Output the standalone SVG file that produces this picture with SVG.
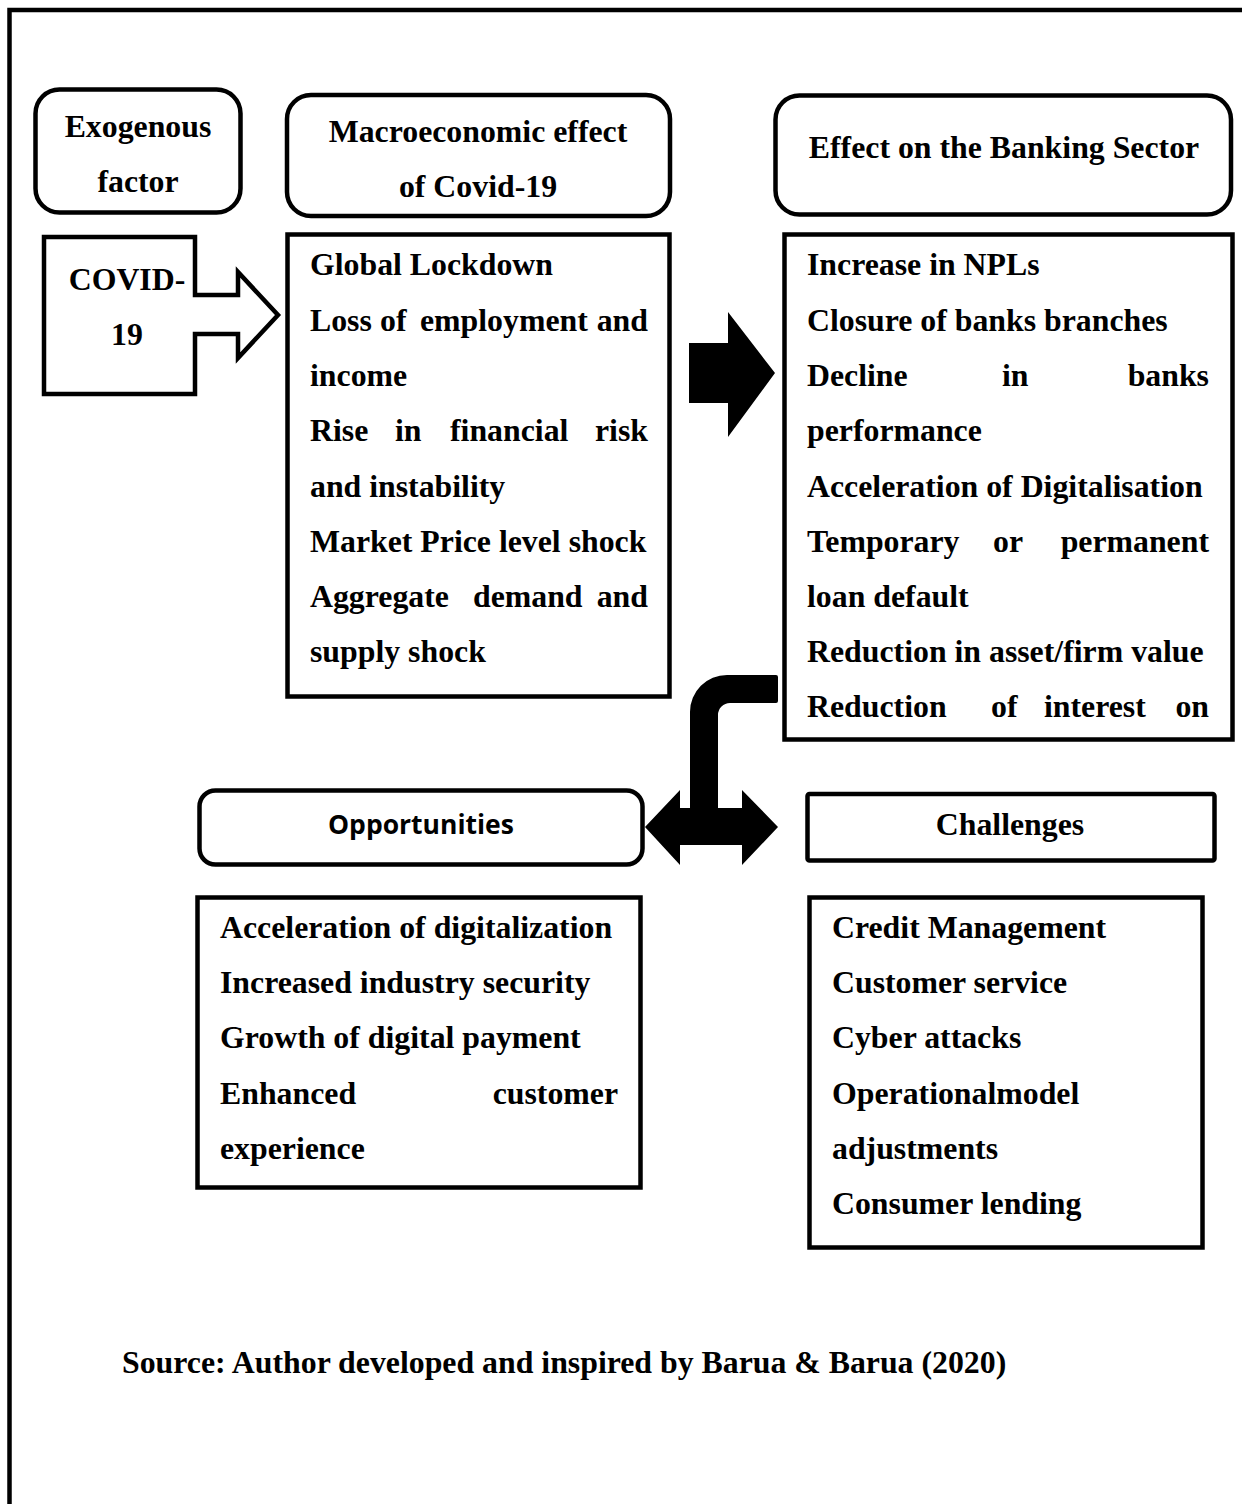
<svg xmlns="http://www.w3.org/2000/svg" width="1242" height="1504" viewBox="0 0 1242 1504">
<style>
.box{fill:#fff;stroke:#000;stroke-width:4.5}
.t{font-family:"Liberation Serif","Times New Roman",serif;font-weight:bold;font-size:31.8px;fill:#000}
.c{text-anchor:middle}
.e{text-anchor:end}
.s{font-family:"Open Sans","Noto Sans",sans-serif;font-weight:bold;font-size:26.5px;fill:#000;text-anchor:middle}
.arrow{fill:#000;stroke:none}
</style>
<rect width="1242" height="1504" fill="#fff"/>
<g id="frame">
<path d="M9.5 1504 L9.5 10 L1242 10" fill="none" stroke="#000" stroke-width="4.5"/>
</g>
<g id="exogenous">
<rect class="box" x="35.5" y="89.5" width="205" height="123" rx="24"/>
<text class="t c" x="138" y="137">Exogenous</text>
<text class="t c" x="138" y="192">factor</text>
</g>
<g id="covid">
<path class="box" d="M44 237 L195 237 L195 295 L238 295 L238 272 L278 315 L238 358 L238 334 L195 334 L195 394 L44 394 Z"/>
<text class="t c" x="127" y="290">COVID-</text>
<text class="t c" x="127" y="345">19</text>
</g>
<g id="macro-header">
<rect class="box" x="287" y="95" width="383" height="121" rx="24"/>
<text class="t c" x="478" y="142">Macroeconomic effect</text>
<text class="t c" x="478" y="197">of Covid-19</text>
</g>
<g id="macro-content">
<rect class="box" x="287.5" y="234.5" width="382" height="462"/>
<text class="t" x="310" y="275">Global Lockdown</text>
<text class="t" x="310" y="331">Loss</text><text class="t" x="380" y="331">of</text><text class="t" x="420" y="331">employment</text><text class="t e" x="648" y="331">and</text>
<text class="t" x="310" y="386">income</text>
<text class="t" x="310" y="441">Rise</text><text class="t" x="395" y="441">in</text><text class="t" x="450" y="441">financial</text><text class="t e" x="648" y="441">risk</text>
<text class="t" x="310" y="497">and instability</text>
<text class="t" x="310" y="552">Market Price level shock</text>
<text class="t" x="310" y="607">Aggregate</text><text class="t" x="473" y="607">demand</text><text class="t e" x="648" y="607">and</text>
<text class="t" x="310" y="662">supply shock</text>
</g>
<g id="banking-header">
<rect class="box" x="775.5" y="95.5" width="455.5" height="119" rx="24"/>
<text class="t c" x="1004" y="158">Effect on the Banking Sector</text>
</g>
<g id="banking-content">
<rect class="box" x="784.5" y="234.5" width="448" height="505"/>
<text class="t" x="807" y="275">Increase in NPLs</text>
<text class="t" x="807" y="331">Closure of banks branches</text>
<text class="t" x="807" y="386">Decline</text><text class="t" x="1002" y="386">in</text><text class="t e" x="1209" y="386">banks</text>
<text class="t" x="807" y="441">performance</text>
<text class="t" x="807" y="497">Acceleration of Digitalisation</text>
<text class="t" x="807" y="552">Temporary</text><text class="t" x="993" y="552">or</text><text class="t e" x="1209" y="552">permanent</text>
<text class="t" x="807" y="607">loan default</text>
<text class="t" x="807" y="662">Reduction in asset/firm value</text>
<text class="t" x="807" y="717">Reduction</text><text class="t" x="991" y="717">of</text><text class="t" x="1044" y="717">interest</text><text class="t e" x="1209" y="717">on</text>
</g>
<g id="opportunities-header">
<rect class="box" x="199.5" y="790.5" width="443" height="74" rx="16"/>
<text class="s" x="421" y="834">Opportunities</text>
</g>
<g id="opportunities-content">
<rect class="box" x="197.5" y="897.5" width="443" height="290"/>
<text class="t" x="220" y="938">Acceleration of digitalization</text>
<text class="t" x="220" y="993">Increased industry security</text>
<text class="t" x="220" y="1048">Growth of digital payment</text>
<text class="t" x="220" y="1104">Enhanced</text><text class="t e" x="618" y="1104">customer</text>
<text class="t" x="220" y="1159">experience</text>
</g>
<g id="challenges-header">
<rect class="box" x="807.5" y="794" width="407" height="66.5" rx="2"/>
<text class="t c" x="1010" y="835">Challenges</text>
</g>
<g id="challenges-content">
<rect class="box" x="809.5" y="897.5" width="393" height="350"/>
<text class="t" x="832" y="938">Credit Management</text>
<text class="t" x="832" y="993">Customer service</text>
<text class="t" x="832" y="1048">Cyber attacks</text>
<text class="t" x="832" y="1104">Operationalmodel</text>
<text class="t" x="832" y="1159">adjustments</text>
<text class="t" x="832" y="1214">Consumer lending</text>
</g>
<g id="connectors">
<path class="arrow" d="M689 343 L728 343 L728 312 L775 373 L728 437 L728 403 L689 403 Z"/>
<path class="arrow" d="M776 675 L727 675 A37 37 0 0 0 690 712 L690 808 L680 808 L680 790 L645 827 L680 865 L680 845 L742 845 L742 865 L778 827 L742 790 L742 808 L718 808 L718 715 A12 12 0 0 1 730 703 L776 703 Q778 703 778 701 L778 677 Q778 675 776 675 Z"/>
</g>
<text class="t" x="122" y="1373">Source: Author developed and inspired by Barua &amp; Barua (2020)</text>
</svg>
